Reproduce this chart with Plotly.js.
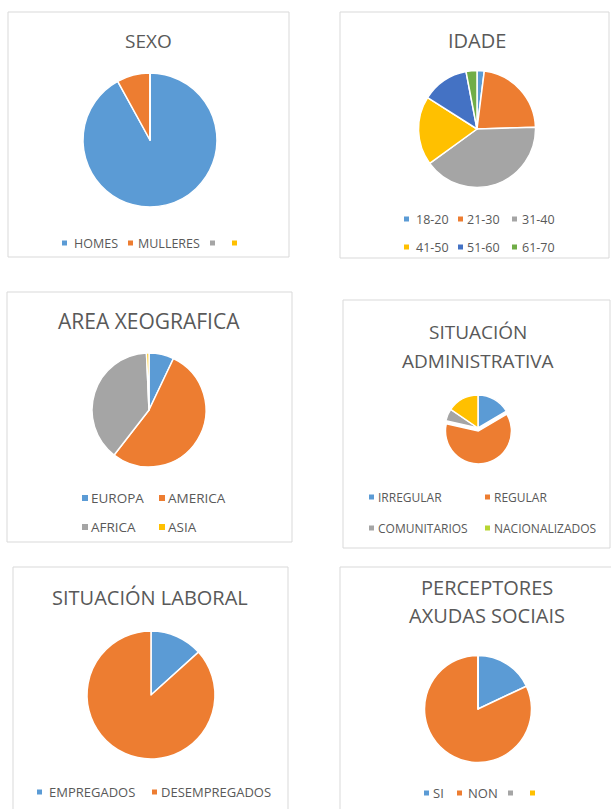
<!DOCTYPE html>
<html>
<head>
<meta charset="utf-8">
<script src="https://cdn.plot.ly/plotly-3.0.1.min.js"></script>
<style>html,body{margin:0;padding:0;background:#ffffff;overflow:hidden}</style>
</head>
<body>
<div id="chart" style="width:611px;height:809px"></div>
<script>
// ---------------- DATA ----------------
const palette = ["#5B9BD5", "#ED7D31", "#A5A5A5", "#FFC000", "#4472C4", "#70AD47"];

const sexoTitle = ["SEXO"];
const sexoLabels = ["HOMES", "MULLERES", "", ""];
const sexoValues = [92, 8, 0, 0];

const idadeTitle = ["IDADE"];
const idadeLabels = ["18-20", "21-30", "31-40", "41-50", "51-60", "61-70"];
const idadeValues = [2, 22.5, 40.5, 19, 13, 3];

const areaTitle = ["AREA XEOGRAFICA"];
const areaLabels = ["EUROPA", "AMERICA", "AFRICA", "ASIA"];
const areaValues = [7, 53, 38.5, 0.7];

const adminTitle = ["SITUACIÓN", "ADMINISTRATIVA"];
const adminLabels = ["IRREGULAR", "REGULAR", "COMUNITARIOS", "NACIONALIZADOS"];
const adminValues = [16.5, 62, 6, 15.5];
const adminLegendColors = ["#5B9BD5", "#ED7D31", "#A5A5A5", "#B7D531"];

const laboralTitle = ["SITUACIÓN LABORAL"];
const laboralLabels = ["EMPREGADOS", "DESEMPREGADOS"];
const laboralValues = [13.3, 86.7];

const axudasTitle = ["PERCEPTORES", "AXUDAS SOCIAIS"];
const axudasLabels = ["SI", "NON", "", ""];
const axudasValues = [18, 82, 0, 0];

// ---------------- LAYOUT CONFIG (pixels) ----------------
const W = 611, H = 809;
const FONT = "Open Sans, Noto Sans, DejaVu Sans, sans-serif";
const TEXT = "#595959";

const panels = [
  { title: sexoTitle, labels: sexoLabels, values: sexoValues,
    box: [8, 12, 289, 257], titleX: 148, titleY: [41], titleSize: 19,
    pie: { cx: 150, cy: 140, r: 67 },
    leg: { size: 12.5, mk: 5, items: [[62, 72, 243], [128, 136, 243], [210, null, 243], [232, null, 243]] } },
  { title: idadeTitle, labels: idadeLabels, values: idadeValues,
    box: [340, 12, 609, 258], titleX: 477, titleY: [41], titleSize: 20,
    pie: { cx: 477, cy: 129, r: 58.5 },
    leg: { size: 12.5, mk: 5, items: [[404, 414, 219], [458, 465, 219], [512, 520, 219], [404, 414, 247], [458, 465, 247], [512, 520, 247]] } },
  { title: areaTitle, labels: areaLabels, values: areaValues,
    box: [7, 292, 292, 542], titleX: 149, titleY: [321], titleSize: 21,
    pie: { cx: 149, cy: 410, r: 57 },
    leg: { size: 13.5, mk: 6, items: [[82, 89, 498], [159, 166, 498], [82, 89, 527], [159, 166, 527]] } },
  { title: adminTitle, labels: adminLabels, values: adminValues, legendColors: adminLegendColors,
    box: [343, 300, 610, 548], titleX: 478, titleY: [332, 361], titleSize: 19,
    pie: { cx: 478, cy: 428, r: 33 }, pull: [0, 0.09, 0, 0],
    leg: { size: 12, mk: 5, items: [[369, 376, 497], [485, 492, 497], [369, 376, 528], [485, 492, 528]] } },
  { title: laboralTitle, labels: laboralLabels, values: laboralValues,
    box: [13, 567, 288, 815], titleX: 150, titleY: [597], titleSize: 20,
    pie: { cx: 151, cy: 695, r: 64 },
    leg: { size: 13, mk: 5, items: [[37, 47, 792], [152, 159, 792]] } },
  { title: axudasTitle, labels: axudasLabels, values: axudasValues,
    box: [340, 567, 615, 815], titleX: 487, titleY: [587, 615], titleSize: 20,
    pie: { cx: 478, cy: 709, r: 53.5 },
    leg: { size: 13, mk: 5, items: [[424, 431, 793], [457, 466, 793], [508, null, 793], [530, null, 793]] } }
];

const px = x => x / W;
const py = y => 1 - y / H;

const traces = [];
const shapes = [];
const annotations = [];

panels.forEach((p, k) => {
  // box
  shapes.push({ type: "rect", xref: "paper", yref: "paper",
    x0: px(p.box[0]), x1: px(p.box[2]), y0: py(p.box[3]), y1: py(p.box[1]),
    line: { color: "#D9D9D9", width: 1 }, fillcolor: "rgba(0,0,0,0)", layer: "below" });

  // pie
  const maxPull = p.pull ? Math.max.apply(null, p.pull) : 0;
  const half = p.pie.r * (1 + maxPull);
  const colors = p.labels.map((_, i) => palette[i % palette.length]);
  traces.push({
    type: "pie",
    labels: p.labels.map((l, i) => l || "\u00a0".repeat(i + 1)),
    values: p.values,
    sort: false, direction: "clockwise", rotation: 0,
    textinfo: "none", hoverinfo: "label+percent",
    pull: p.pull || 0,
    marker: { colors: colors, line: { color: "#ffffff", width: 1.5 } },
    domain: { x: [px(p.pie.cx - half), px(p.pie.cx + half)], y: [py(p.pie.cy + half), py(p.pie.cy - half)] },
    showlegend: false
  });

  // title
  p.title.forEach((line, j) => {
    annotations.push({ xref: "paper", yref: "paper", x: px(p.titleX), y: py(p.titleY[j]),
      xanchor: "center", yanchor: "middle", showarrow: false, text: line,
      font: { family: FONT, size: p.titleSize, color: TEXT } });
  });

  // legend
  const lc = p.legendColors || colors;
  p.leg.items.forEach((it, i) => {
    const [mx, tx, y] = it;
    const m = p.leg.mk;
    shapes.push({ type: "rect", xref: "paper", yref: "paper",
      x0: px(mx), x1: px(mx + m), y0: py(y + m / 2), y1: py(y - m / 2),
      line: { width: 0 }, fillcolor: lc[i] });
    if (tx !== null && p.labels[i]) {
      annotations.push({ xref: "paper", yref: "paper", x: px(tx), y: py(y),
        xanchor: "left", yanchor: "middle", showarrow: false, text: p.labels[i],
        font: { family: FONT, size: p.leg.size, color: TEXT } });
    }
  });
});

const layout = {
  width: W, height: H,
  margin: { l: 0, r: 0, t: 0, b: 0 },
  paper_bgcolor: "#ffffff", plot_bgcolor: "#ffffff",
  showlegend: false,
  shapes: shapes, annotations: annotations,
  font: { family: FONT, color: TEXT }
};

Plotly.newPlot("chart", traces, layout, { displayModeBar: false, staticPlot: true });
</script>
</body>
</html>
